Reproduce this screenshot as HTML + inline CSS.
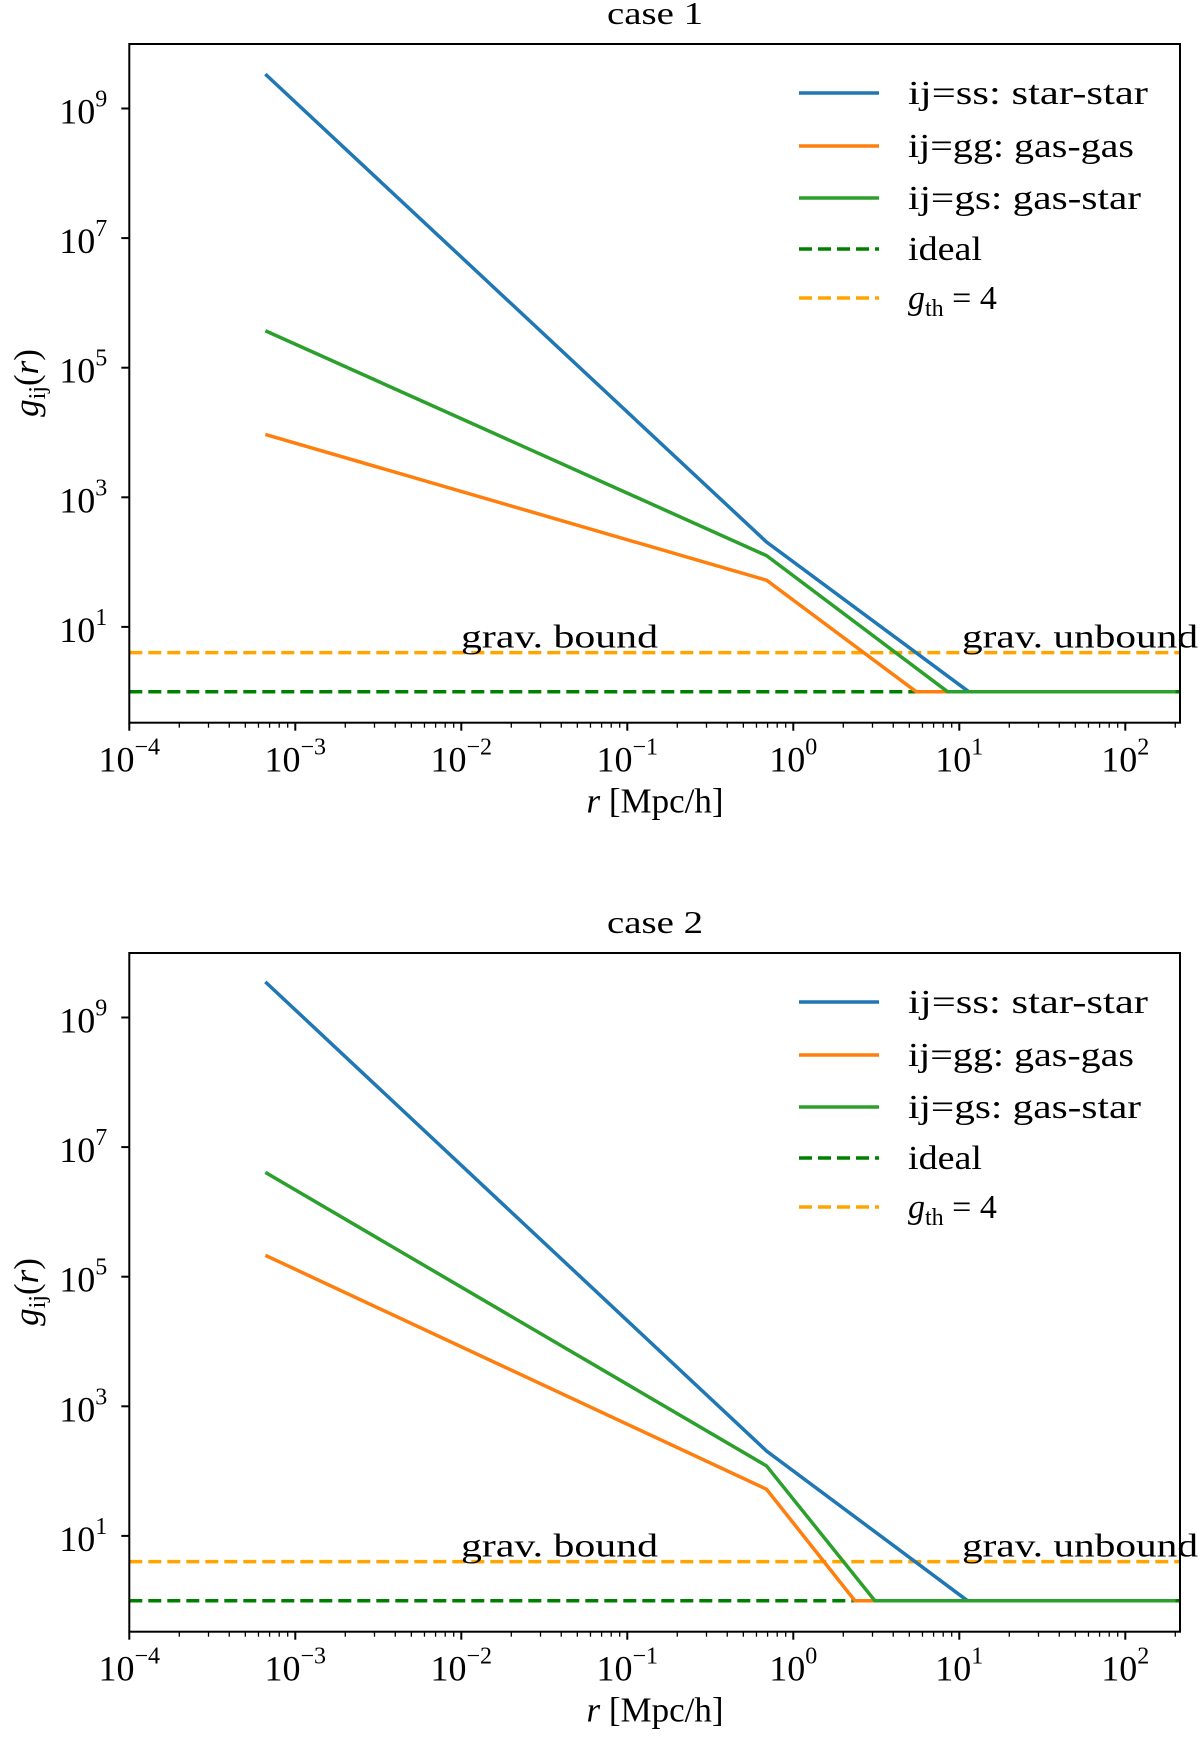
<!DOCTYPE html>
<html><head><meta charset="utf-8"><style>
body{margin:0;background:#fff}
svg text{font-family:"Liberation Serif",serif;fill:#000}
</style></head><body>
<svg id="c" width="1200" height="1746" viewBox="0 0 1200 1746" xmlns="http://www.w3.org/2000/svg"></svg>
<script>
const xBreak = 0.69;
const xStart = 6.6e-4;
const xEnd = 200;
const case1Start = [9.53, 3.97, 5.57];
const case1Break = [2.31, 1.72, 2.10];
const case1End = [11.4, 5.5, 8.5];
const case2Start = [9.55, 5.33, 6.61];
const case2Break = [2.31, 1.72, 2.08];
const case2End = [11.2, 2.35, 3.1];
const seriesNames = ["ij=ss:  star-star","ij=gg:  gas-gas","ij=gs:  gas-star"];
const seriesKeys = ["star-star","gas-gas","gas-star"];
const colors = ["#1f77b4","#ff7f0e","#2ca02c"];
const gth = 4;
const ideal = 1;
const xTickExp = [-4,-3,-2,-1,0,1,2];
const yLabelExp = [1,3,5,7,9];
const panels = [{title:"case 1",start:case1Start,brk:case1Break,end:case1End,off:0},
                {title:"case 2",start:case2Start,brk:case2Break,end:case2End,off:909}];
const legendWidths=[240,226,233,74];
const NS="http://www.w3.org/2000/svg";
const svg=document.getElementById('c');
function mk(tag,attrs,parent,txt){const e=document.createElementNS(NS,tag);for(const k in attrs)e.setAttribute(k,attrs[k]);if(txt!==undefined)e.textContent=txt;(parent||svg).appendChild(e);return e;}
const L=129.3,R=1180,X0=-4,DX=166;
function sx(v){return L+(Math.log10(v)-X0)*DX;}
panels.forEach((p,pi)=>{
  const T=44+p.off,B=722.7+p.off,Y1=691.7+p.off,DY=64.8;
  const sy=v=>Y1-Math.log10(v)*DY;
  const g=mk('g',{});
  
  
  const t=mk('text',{x:655,y:T-20,'font-size':32,'text-anchor':'middle',textLength:96,lengthAdjust:'spacingAndGlyphs'},g,p.title);
  
  const clip=mk('clipPath',{id:'cp'+pi},g);mk('rect',{x:L,y:T,width:R-L,height:B-T},clip);
  const pg=mk('g',{'clip-path':'url(#cp'+pi+')'},g);
  const th=mk('line',{x1:L,x2:R,y1:sy(gth),y2:sy(gth),stroke:'#ffa500','stroke-width':3.5,'stroke-dasharray':'13,6'},pg);
  
  const id=mk('line',{x1:L,x2:R,y1:sy(ideal),y2:sy(ideal),stroke:'#008000','stroke-width':3.5,'stroke-dasharray':'13,6'},pg);
  
  [0,1,2].forEach(i=>{
    const pts=[[xStart,Math.pow(10,p.start[i])],[xBreak,Math.pow(10,p.brk[i])],[p.end[i],ideal],[xEnd,ideal]];
    const pl=mk('polyline',{points:pts.map(q=>sx(q[0])+','+sy(q[1])).join(' '),fill:'none',stroke:colors[i],'stroke-width':3.5},pg);
    
  });
  const b=mk('text',{x:461,y:sy(gth)-5,'font-size':33,textLength:197,lengthAdjust:'spacingAndGlyphs'},g,'grav.  bound');
  
  const u=mk('text',{x:962,y:sy(gth)-5,'font-size':33,textLength:236,lengthAdjust:'spacingAndGlyphs'},g,'grav.  unbound');
  
  const fr=mk('rect',{x:L,y:T,width:R-L,height:B-T,fill:'none',stroke:'#000','stroke-width':2},g);
  
  xTickExp.forEach(e=>{
    const x=sx(Math.pow(10,e));
    mk('line',{x1:x,x2:x,y1:B,y2:B+8,stroke:'#000','stroke-width':2},g);
    const tx=mk('text',{x:x,y:B+49,'font-size':36,'text-anchor':'middle'},g);
    
    mk('tspan',{},tx,'10');mk('tspan',{dy:-17,'font-size':24},tx,e<0?'\u2212'+(-e):String(e));
    for(let m=2;m<10;m++){const xm=sx(m*Math.pow(10,e));if(xm<R)mk('line',{x1:xm,x2:xm,y1:B,y2:B+5,stroke:'#000','stroke-width':1.3},g);}
  });
  yLabelExp.forEach(e=>{
    const y=sy(Math.pow(10,e));
    mk('line',{x1:L-8,x2:L,y1:y,y2:y,stroke:'#000','stroke-width':2},g);
    const ty=mk('text',{x:L-22,y:y+15,'font-size':36,'text-anchor':'end'},g);
    
    mk('tspan',{},ty,'10');mk('tspan',{dy:-17,'font-size':24},ty,String(e));
  });
  const xl=mk('text',{x:655,y:B+90,'font-size':35,'text-anchor':'middle'},g);
  
  mk('tspan',{'font-style':'italic'},xl,'r');mk('tspan',{},xl,' [Mpc/h]');
  const yl=mk('text',{x:0,y:0,'font-size':35,'text-anchor':'middle',transform:'translate(38,'+(T+339)+') rotate(-90)'},g);
  
  mk('tspan',{'font-style':'italic'},yl,'g');mk('tspan',{dy:7,'font-size':24},yl,'ij');mk('tspan',{dy:-7},yl,'(');mk('tspan',{'font-style':'italic'},yl,'r');mk('tspan',{},yl,')');
  const lg=mk('g',{},g);
  
  const rows=[0,1,2].map(i=>({lab:seriesNames[i],c:colors[i],d:null})).concat([{lab:'ideal',c:'#008000',d:'13,6'},{lab:'gth',c:'#ffa500',d:'13,6'}]);
  const rowY=[93,146,198,249,298];
  rows.forEach((r,i)=>{
    const y=rowY[i]+p.off;
    const en=mk('g',{},lg);
    
    const ln=mk('line',{x1:799,x2:879,y1:y,y2:y,stroke:r.c,'stroke-width':3.5},en);
    if(r.d)ln.setAttribute('stroke-dasharray',r.d);
    const tx=mk('text',{x:908,y:y+11,'font-size':34},en);
    if(r.lab==='gth'){mk('tspan',{'font-style':'italic'},tx,'g');mk('tspan',{dy:7,'font-size':24},tx,'th');mk('tspan',{dy:-7},tx,'  =  '+gth);}
    else {tx.textContent=r.lab;tx.setAttribute('textLength',legendWidths[i]);tx.setAttribute('lengthAdjust','spacingAndGlyphs');}
  });
});
</script>
</body></html>
